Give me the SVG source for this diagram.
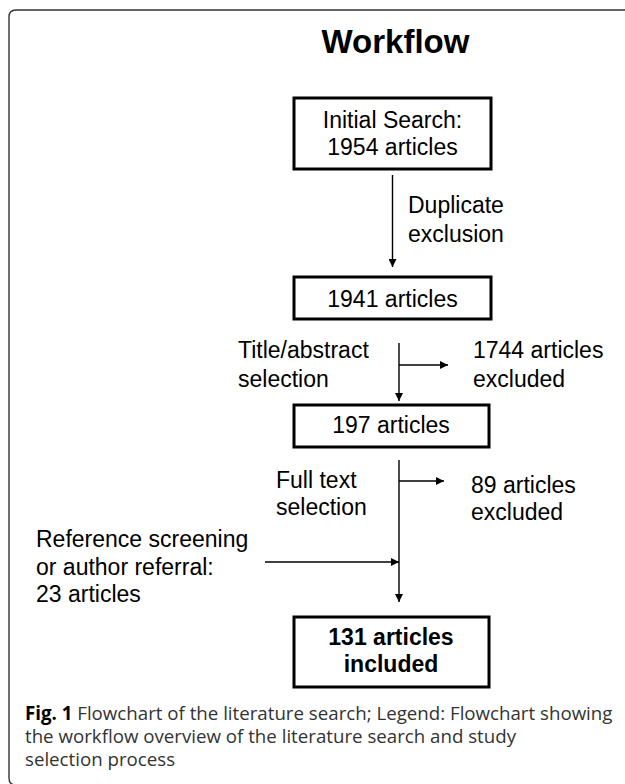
<svg xmlns="http://www.w3.org/2000/svg" width="625" height="784" viewBox="0 0 625 784">
<style>
.frame{fill:none;stroke:#333;stroke-width:1.4}
.box{fill:#fff;stroke:#000;stroke-width:3}
.t{font-family:"Liberation Sans",Arial,sans-serif;font-size:23px;fill:#000}
.c{text-anchor:middle}
.b{font-weight:bold}
.ln{stroke:#000;stroke-width:1.4;fill:none}
.cap{font-family:"Open Sans","Liberation Sans",sans-serif;font-size:18.7px;fill:#333}
</style>
<defs>
<marker id="ah" markerWidth="8" markerHeight="8" refX="8" refY="4" orient="auto" markerUnits="userSpaceOnUse">
<path d="M0,0 L8,4 L0,8 Z" fill="#000"/>
</marker>
</defs>
<path class="frame" d="M640,10 H16 Q9,10 9,17 V778 Q9,785 16,785"/>
<text class="t b c" x="395.5" y="53" style="font-size:33px">Workflow</text>
<g id="n1">
<rect class="box" x="294" y="98" width="197" height="71"/>
<text class="t c" x="392.5" y="128">Initial Search:</text>
<text class="t c" x="392.5" y="155">1954 articles</text>
</g>
<g id="n2">
<rect class="box" x="294" y="277" width="197" height="42"/>
<text class="t c" x="392.5" y="307">1941 articles</text>
</g>
<g id="n3">
<rect class="box" x="294" y="405" width="195" height="42"/>
<text class="t c" x="391" y="433">197 articles</text>
</g>
<g id="n4">
<rect class="box" x="294" y="617" width="195" height="70"/>
<text class="t c b" x="391" y="645">131 articles</text>
<text class="t c b" x="391" y="672">included</text>
</g>
<g id="labels">
<text class="t" x="408" y="213">Duplicate</text>
<text class="t" x="408" y="242">exclusion</text>
<text class="t" x="238" y="358">Title/abstract</text>
<text class="t" x="238" y="387">selection</text>
<text class="t" x="473" y="358">1744 articles</text>
<text class="t" x="473" y="387">excluded</text>
<text class="t" x="276" y="488">Full text</text>
<text class="t" x="276" y="515">selection</text>
<text class="t" x="471" y="493">89 articles</text>
<text class="t" x="471" y="520">excluded</text>
<text class="t" x="36" y="547">Reference screening</text>
<text class="t" x="36" y="575">or author referral:</text>
<text class="t" x="36" y="602">23 articles</text>
</g>
<g id="connectors">
<line class="ln" x1="392.5" y1="175" x2="392.5" y2="267" marker-end="url(#ah)"/>
<line class="ln" x1="399" y1="343" x2="399" y2="401" marker-end="url(#ah)"/>
<line class="ln" x1="399" y1="365" x2="448" y2="365" marker-end="url(#ah)"/>
<line class="ln" x1="399" y1="460" x2="399" y2="602" marker-end="url(#ah)"/>
<line class="ln" x1="399" y1="481" x2="444" y2="481" marker-end="url(#ah)"/>
<line class="ln" x1="265" y1="562" x2="399" y2="562" marker-end="url(#ah)"/>
</g>
<g id="caption">
<text class="cap" x="25" y="720"><tspan font-weight="bold" fill="#000">Fig. 1</tspan> Flowchart of the literature search; Legend: Flowchart showing</text>
<text class="cap" x="25" y="743">the workflow overview of the literature search and study</text>
<text class="cap" x="25" y="766">selection process</text>
</g>
</svg>
